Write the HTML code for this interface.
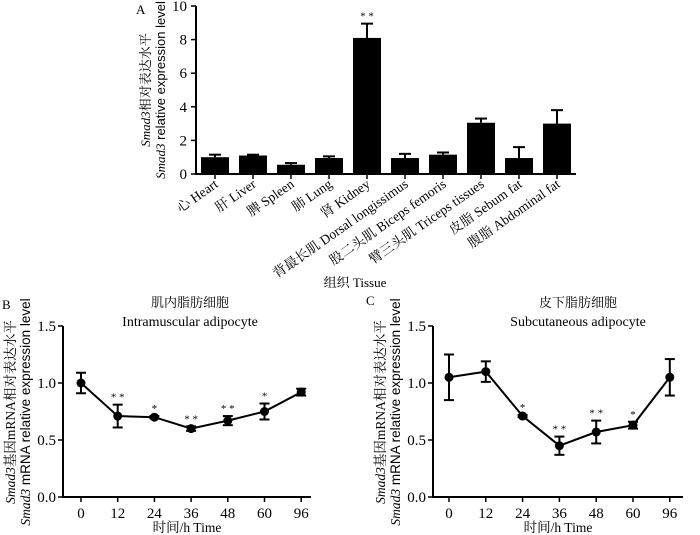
<!DOCTYPE html>
<html><head><meta charset="utf-8"><style>
body{margin:0;background:#fff}
svg{display:block;font-family:"Liberation Serif","Noto Serif CJK SC",serif}
.s{font-family:"Liberation Sans","Noto Sans CJK SC",sans-serif}
</style></head><body>
<svg id="c" width="700" height="535" viewBox="0 0 700 535"></svg>
<script>
const tissues=["心 Heart","肝 Liver","脾 Spleen","肺 Lung","肾 Kidney","背最长肌 Dorsal longissimus","股二头肌 Biceps femoris","臂三头肌 Triceps tissues","皮脂 Sebum fat","腹脂 Abdominal fat"];
const tissueVals=[1.0,1.1,0.55,0.95,8.1,0.95,1.15,3.05,0.95,3.0];
const tissueErr=[0.15,0.05,0.1,0.1,0.85,0.25,0.13,0.25,0.65,0.8];
const tissueSig=["","","","","**","","","","",""];
const aTicks=[0,2,4,6,8,10];
const times=["0","12","24","36","48","60","96"];
const bVals=[1.0,0.71,0.70,0.60,0.67,0.75,0.92];
const bErr=[0.09,0.1,0.01,0.02,0.04,0.07,0.03];
const bSig=["","**","*","**","**","*",""];
const cVals=[1.05,1.10,0.71,0.45,0.57,0.63,1.05];
const cErr=[0.2,0.09,0.01,0.08,0.1,0.03,0.16];
const cSig=["","","*","**","**","*",""];
const lineTicks=[0,0.5,1.0,1.5];
const NS="http://www.w3.org/2000/svg";
const svg=document.getElementById('c');
function el(t,a,txt,p){const e=document.createElementNS(NS,t);for(const k in a)e.setAttribute(k,a[k]);if(txt!=null)e.textContent=txt;(p||svg).appendChild(e);return e;}
// Panel A
const ay=v=>174-v*16.8, ax=i=>215+i*38;
let g=el('g',{});


el('text',{x:136,y:14,'font-size':13},'A',g);
el('line',{x1:196,y1:6,x2:196,y2:175,stroke:'#000','stroke-width':2},g);
el('line',{x1:195,y1:174,x2:576,y2:174,stroke:'#000','stroke-width':2},g);
aTicks.forEach(t=>{el('line',{x1:191,y1:ay(t),x2:196,y2:ay(t),stroke:'#000','stroke-width':1.5},g);
 const tx=el('text',{x:187,y:ay(t)+5,'text-anchor':'end','font-size':15},String(t),g);
 });
tissues.forEach((n,i)=>{const x=ax(i),v=tissueVals[i],e=tissueErr[i];
 el('line',{x1:x,y1:ay(v),x2:x,y2:ay(v+e),stroke:'#000','stroke-width':2},g);
 el('line',{x1:x-6,y1:ay(v+e),x2:x+6,y2:ay(v+e),stroke:'#000','stroke-width':2},g);
 const r=el('rect',{x:x-14,y:ay(v),width:28,height:174-ay(v),fill:'#000'},g);
 
 el('line',{x1:x,y1:174,x2:x,y2:179,stroke:'#000','stroke-width':1.5},g);
 if(tissueSig[i])el('text',{x:x,y:ay(v+e)-4,'text-anchor':'middle','font-size':11},tissueSig[i].split('').join(' '),g);
 const l=el('text',{x:x+4,y:186,'text-anchor':'end','font-size':13.5,transform:`rotate(-35 ${x+4} 186)`},n,g);
 });
let yt=el('text',{transform:'rotate(-90) translate(-90 150)','text-anchor':'middle','font-size':13},null,g);

el('tspan',{'font-style':'italic'},'Smad3',yt);el('tspan',{},'相对表达水平',yt);
let yt2=el('text',{transform:'rotate(-90) translate(-90 165)','text-anchor':'middle','font-size':13},null,g);
el('tspan',{'font-style':'italic'},'Smad3',yt2);el('tspan',{class:'s'},' relative expression level',yt2);
const xa=el('text',{x:355,y:287,'text-anchor':'middle','font-size':13},'组织  Tissue',g);

// line panels
function panel(name,label,lx,ly,axX,x0,dx,xEnd,title1,title2,tcx,vals,errs,sigs){
 const g=el('g',{});
 
 
 const y=v=>497-v*114, x=i=>x0+i*dx;
 el('text',{x:lx,y:ly,'font-size':13},label,g);
 el('text',{x:tcx,y:307,'text-anchor':'middle','font-size':13},title1,g);
 el('text',{x:tcx,y:326,'text-anchor':'middle','font-size':14},title2,g);
 el('line',{x1:axX,y1:326,x2:axX,y2:498,stroke:'#000','stroke-width':2},g);
 el('line',{x1:axX-1,y1:497,x2:xEnd,y2:497,stroke:'#000','stroke-width':2},g);
 lineTicks.forEach(t=>{el('line',{x1:axX-5,y1:y(t),x2:axX,y2:y(t),stroke:'#000','stroke-width':1.5},g);
  el('text',{x:axX-7,y:y(t)+5,'text-anchor':'end','font-size':15},t.toFixed(1),g);});
 times.forEach((t,i)=>{el('line',{x1:x(i),y1:497,x2:x(i),y2:502,stroke:'#000','stroke-width':1.5},g);
  el('text',{x:x(i),y:518,'text-anchor':'middle','font-size':15},t,g);});
 el('polyline',{points:vals.map((v,i)=>x(i)+','+y(v)).join(' '),fill:'none',stroke:'#000','stroke-width':2},g);
 vals.forEach((v,i)=>{const e=errs[i];
  el('line',{x1:x(i),y1:y(v-e),x2:x(i),y2:y(v+e),stroke:'#000','stroke-width':2},g);
  el('line',{x1:x(i)-5,y1:y(v+e),x2:x(i)+5,y2:y(v+e),stroke:'#000','stroke-width':2},g);
  el('line',{x1:x(i)-5,y1:y(v-e),x2:x(i)+5,y2:y(v-e),stroke:'#000','stroke-width':2},g);
  const p=el('circle',{cx:x(i),cy:y(v),r:4.5,fill:'#000'},g);
  
  if(sigs[i])el('text',{x:x(i),y:y(v+e)-4,'text-anchor':'middle','font-size':11},sigs[i].split('').join(' '),g);});
 const cx=(axX+xEnd)/2;
 el('text',{x:cx,y:532,'text-anchor':'middle','font-size':13.5},'时间/h Time',g);
 const a=el('text',{transform:`rotate(-90) translate(-412 ${axX-48})`,'text-anchor':'middle','font-size':13.5},null,g);
 el('tspan',{'font-style':'italic'},'Smad3',a);el('tspan',{},'基因mRNA相对表达水平',a);
 const b=el('text',{transform:`rotate(-90) translate(-412 ${axX-33})`,'text-anchor':'middle','font-size':13.5},null,g);
 el('tspan',{'font-style':'italic'},'Smad3',b);el('tspan',{class:'s'},' mRNA relative expression level',b);
}
panel('panel-b','B',2,309,63,81,36.7,311,'肌内脂肪细胞','Intramuscular adipocyte',190,bVals,bErr,bSig);
panel('panel-c','C',366,305,433,449,36.8,683,'皮下脂肪细胞','Subcutaneous adipocyte',578,cVals,cErr,cSig);
</script>
</body></html>
